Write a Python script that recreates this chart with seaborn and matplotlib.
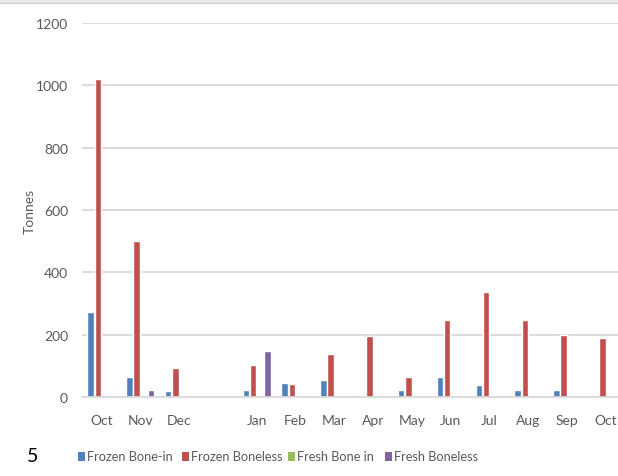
import matplotlib
matplotlib.use("Agg")
import matplotlib.pyplot as plt
import seaborn as sns
import pandas as pd
from matplotlib.patches import Rectangle

months = ["Oct", "Nov", "Dec", " ", "Jan", "Feb", "Mar", "Apr", "May",
          "Jun", "Jul", "Aug", "Sep", "Oct "]
frozen_bone_in = [273, 63, 20, 0, 22, 44, 53, 4, 22, 64, 40, 22, 21, 0]
frozen_boneless = [1020, 500, 92, 0, 102, 41, 138, 196, 64, 247, 336, 247, 198, 189]
fresh_bone_in = [0, 0, 0, 0, 0, 1, 0, 0, 0, 1, 0, 0, 0, 0]
fresh_boneless = [0, 22, 0, 0, 149, 0, 0, 0, 0, 0, 5, 0, 0, 0]
series_names = ["Frozen Bone-in", "Frozen Boneless", "Fresh Bone in", "Fresh Boneless"]
colors = ["#4f81bd", "#c0504d", "#9bbb59", "#8064a2"]
tick_labels = ["Oct", "Nov", "Dec", "", "Jan", "Feb", "Mar", "Apr", "May",
               "Jun", "Jul", "Aug", "Sep", "Oct"]

rows = []
for name, vals in zip(series_names,
                      [frozen_bone_in, frozen_boneless, fresh_bone_in, fresh_boneless]):
    for m, v in zip(months, vals):
        rows.append({"month": m, "series": name, "tonnes": v})
df = pd.DataFrame(rows)

sns.set_style("white")
plt.rcParams["font.family"] = ["Lato", "DejaVu Sans"]

fig = plt.figure(figsize=(6.18, 4.77), dpi=100)
ax = fig.add_axes([82 / 618, 1 - 398 / 477, (618 - 82) / 618, (398 - 24) / 477])

sns.barplot(data=df, x="month", y="tonnes", hue="series", order=months,
            hue_order=series_names, palette=colors, width=0.74, gap=0.1,
            saturation=1, ax=ax, legend=False)

ax.set_xlim(-0.5, 13.31)
ax.set_ylim(0, 1200)
ax.set_yticks(range(0, 1201, 200))
ax.yaxis.grid(True, color="#d9d9d9", linewidth=1.3)
ax.set_axisbelow(True)
for s in ["left", "right", "top"]:
    ax.spines[s].set_visible(False)
ax.spines["bottom"].set_color("#d9d9d9")
ax.spines["bottom"].set_linewidth(1.3)
ax.set_xticks(range(len(months)))
ax.set_xticklabels(tick_labels)
ax.tick_params(axis="both", length=0, labelsize=10, labelcolor="#595959")
ax.tick_params(axis="x", pad=12)
ax.tick_params(axis="y", pad=10)
ax.set_xlabel("")
ax.set_ylabel("Tonnes", fontsize=10, color="#595959", labelpad=0)

# top band
fig.patches.append(Rectangle((0, 1 - 3.5 / 477), 1, 3.5 / 477, transform=fig.transFigure,
                             facecolor="#e8e8e8", edgecolor="none"))
fig.add_artist(plt.Line2D([0, 1], [1 - 4 / 477, 1 - 4 / 477], transform=fig.transFigure,
                          color="#cfcfcf", linewidth=1))

fig.text(33 / 618, 1 - 457 / 477, "5", fontsize=14, color="black", va="center", ha="center")

# legend
legend_x = [78, 182, 288, 385]
for x, name, c in zip(legend_x, series_names, colors):
    fig.patches.append(Rectangle((x / 618, 1 - 462 / 477), 7 / 618, 9 / 477,
                                 transform=fig.transFigure, facecolor=c, edgecolor="none"))
    fig.text((x + 9) / 618, 1 - 457 / 477, name, fontsize=9.2, color="#595959", va="center")

fig.savefig("out.png", dpi=100)
